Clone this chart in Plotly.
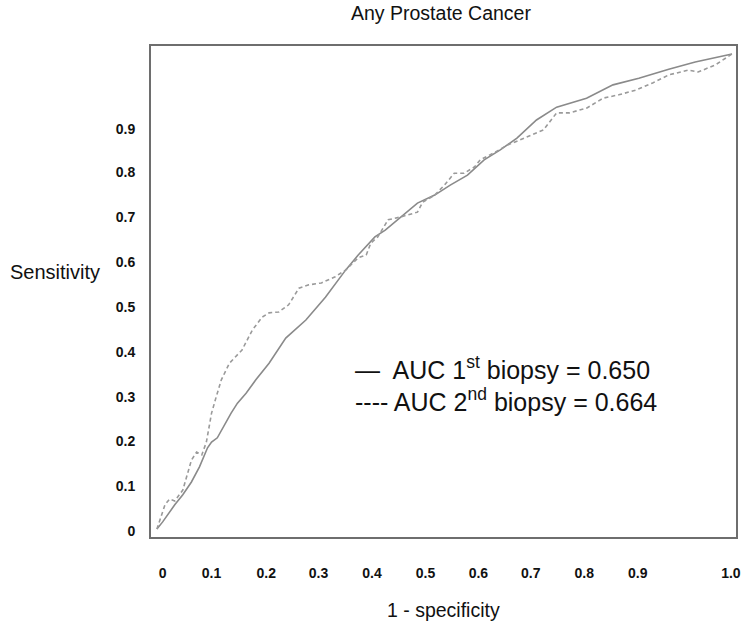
import plotly.graph_objects as go

# ROC curve coordinates (1 - specificity, sensitivity)
fpr_first = [0.000, 0.010, 0.031, 0.045, 0.060, 0.074, 0.088, 0.095, 0.105, 0.117,
             0.129, 0.140, 0.155, 0.172, 0.195, 0.224, 0.259, 0.293, 0.328, 0.350,
             0.379, 0.397, 0.424, 0.453, 0.483, 0.510, 0.540, 0.569, 0.597, 0.626,
             0.660, 0.695, 0.747, 0.793, 0.838, 0.890, 0.936, 1.000]
tpr_first = [0.000, 0.015, 0.051, 0.072, 0.099, 0.131, 0.171, 0.183, 0.192, 0.219,
             0.244, 0.265, 0.286, 0.314, 0.349, 0.402, 0.440, 0.488, 0.545, 0.577,
             0.615, 0.629, 0.657, 0.686, 0.703, 0.724, 0.745, 0.777, 0.798, 0.823,
             0.861, 0.888, 0.907, 0.935, 0.949, 0.968, 0.983, 1.000]

fpr_second = [0.000, 0.014, 0.022, 0.031, 0.045, 0.060, 0.069, 0.078, 0.086, 0.095,
              0.103, 0.112, 0.126, 0.148, 0.166, 0.183, 0.195, 0.212, 0.229, 0.247,
              0.264, 0.286, 0.310, 0.328, 0.350, 0.364, 0.372, 0.384, 0.402, 0.424,
              0.453, 0.462, 0.483, 0.500, 0.517, 0.534, 0.552, 0.562, 0.586, 0.609,
              0.631, 0.672, 0.695, 0.717, 0.747, 0.776, 0.803, 0.833, 0.862, 0.890,
              0.924, 0.941, 0.971, 1.000]
tpr_second = [0.000, 0.051, 0.063, 0.059, 0.082, 0.145, 0.162, 0.156, 0.183, 0.244,
              0.278, 0.314, 0.349, 0.377, 0.419, 0.446, 0.455, 0.457, 0.472, 0.507,
              0.514, 0.518, 0.531, 0.545, 0.571, 0.577, 0.602, 0.615, 0.651, 0.657,
              0.667, 0.688, 0.703, 0.724, 0.749, 0.749, 0.762, 0.777, 0.792, 0.808,
              0.819, 0.840, 0.876, 0.876, 0.886, 0.907, 0.914, 0.924, 0.939, 0.956,
              0.966, 0.962, 0.977, 1.000]

auc_first = 0.650
auc_second = 0.664

# Axis tick labels and where they are printed along each axis
x_tick_text = ["0", "0.1", "0.2", "0.3", "0.4", "0.5", "0.6", "0.7", "0.8", "0.9", "1.0"]
x_tick_at = [0.010, 0.095, 0.190, 0.281, 0.374, 0.467, 0.559, 0.650, 0.743, 0.836, 0.998]
y_tick_text = ["0", "0.1", "0.2", "0.3", "0.4", "0.5", "0.6", "0.7", "0.8", "0.9"]
y_tick_at = [-0.004, 0.091, 0.185, 0.278, 0.373, 0.467, 0.562, 0.657, 0.752, 0.842]

FONT = "Liberation Sans, Arial, sans-serif"
INK = "#111111"

fig = go.Figure()
fig.add_trace(go.Scatter(x=fpr_first, y=tpr_first, mode="lines",
                         line=dict(color="#8a8a8a", width=1.6),
                         showlegend=False, hoverinfo="skip"))
fig.add_trace(go.Scatter(x=fpr_second, y=tpr_second, mode="lines",
                         line=dict(color="#9a9a9a", width=1.6, dash="4px,3px"),
                         showlegend=False, hoverinfo="skip"))

axis_common = dict(showgrid=False, zeroline=False, showline=True, mirror=True,
                   linecolor="#6e6e6e", linewidth=2, ticks="",
                   tickfont=dict(family=FONT, size=14, color=INK, weight="bold"))

fig.update_xaxes(range=[-0.0103, 1.0069], tickvals=x_tick_at, ticktext=x_tick_text,
                 ticklabelstandoff=22, **axis_common)
fig.update_yaxes(range=[-0.0168, 1.0168], tickvals=y_tick_at, ticktext=y_tick_text,
                 ticklabelstandoff=11, **axis_common)


def label(text, x, y, size, anchor="center"):
    fig.add_annotation(text=text, xref="paper", yref="paper", x=x, y=y,
                       xanchor=anchor, yanchor="middle", showarrow=False,
                       font=dict(family=FONT, size=size, color=INK))


label("Any Prostate Cancer", 0.495, 1.067, 19.5)
label("1 - specificity", 0.500, -0.149, 19.5)
label("Sensitivity", -0.164, 0.540, 20)

label(f"—  AUC 1<sup>st</sup> biopsy = {auc_first:.3f}", 0.346, 0.344, 25, "left")
label(f"---- AUC 2<sup>nd</sup> biopsy = {auc_second:.3f}", 0.346, 0.279, 25, "left")

fig.update_layout(width=745, height=623,
                  margin=dict(l=151, r=4, t=46, b=86),
                  paper_bgcolor="white", plot_bgcolor="white")

fig.write_html("out.html")
